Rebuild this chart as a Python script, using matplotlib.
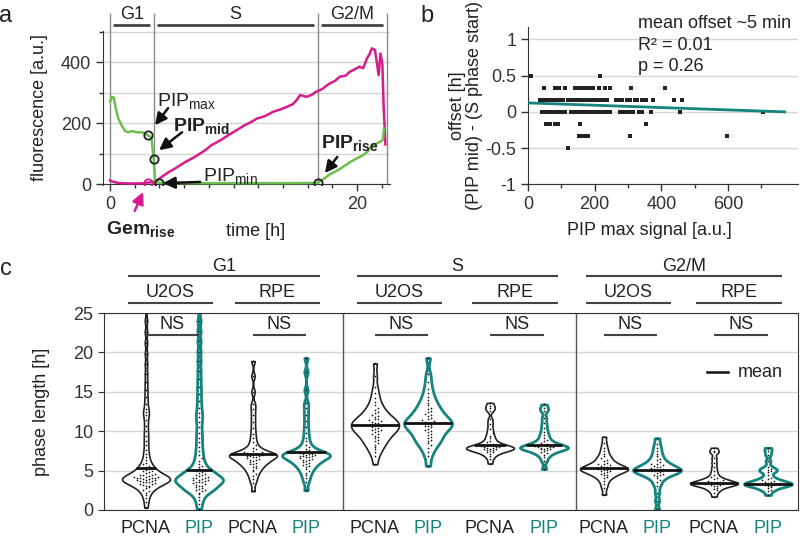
import numpy as np
import matplotlib.pyplot as plt

plt.rcParams['font.family'] = ['Liberation Sans', 'DejaVu Sans']
plt.rcParams['mathtext.fontset'] = 'custom'
plt.rcParams['mathtext.rm'] = 'Liberation Sans'
plt.rcParams['mathtext.bf'] = 'Liberation Sans:bold'
plt.rcParams['mathtext.it'] = 'Liberation Sans:italic'
plt.rcParams['axes.unicode_minus'] = False
plt.rcParams['text.color'] = '#222222'
plt.rcParams['axes.labelcolor'] = '#222222'
plt.rcParams['xtick.color'] = '#333333'
plt.rcParams['ytick.color'] = '#333333'
plt.rcParams['axes.edgecolor'] = '#333333'

FS = 13
GREEN = '#6cbf4e'
MAGENTA = '#d81b8c'
TEAL = '#15847c'
GRID = '#d6d6d6'

# ---- panel a: example cell trace ----
pip_t = [0.0, 0.15, 0.3, 0.45, 0.67, 0.94, 1.21, 1.48, 1.8, 2.15, 2.56, 2.8, 3.05, 3.25, 3.37,
         3.45, 3.53, 3.6, 3.64, 3.75, 3.97, 6.0, 9.0, 12.0, 15.0, 16.8, 17.27, 17.8, 18.6, 19.4,
         19.97, 20.5, 20.9, 21.2, 21.6, 21.86, 22.08, 22.19]
pip_v = [270, 286, 284, 250, 215, 193, 174, 170, 174, 170, 170, 166, 160, 156, 144,
         115, 82, 40, 12, 6, 4, 3, 3, 3, 3, 4, 16, 32, 49, 71,
         84, 95, 108, 128, 133, 139, 144, 182]

gem_t = [0.0, 0.15, 0.4, 0.8, 1.5, 2.2, 2.8, 3.05, 3.3, 3.6, 3.9, 4.2, 4.7, 5.26, 6.0, 6.9, 7.6,
         8.23, 9.0, 9.6, 10.3, 10.9, 11.5, 11.9, 12.5, 13.2, 13.8, 14.3, 14.8, 15.1, 15.4, 15.9,
         16.3, 16.7, 17.2, 17.5, 17.8, 18.2, 18.6, 19.1, 19.4, 19.7, 20.2, 20.5, 20.8, 21.0,
         21.2, 21.45, 21.6, 21.75, 21.9, 22.05, 22.15, 22.3]
gem_v = [12, 9, 6, 3, 2, 2, 3, 5, 6, 8, 15, 24, 38, 51, 70, 90, 108,
         128, 145, 161, 178, 193, 205, 215, 222, 237, 245, 253, 262, 275, 292, 286,
         292, 303, 312, 322, 330, 338, 352, 356, 368, 374, 385, 380, 412, 425,
         445, 440, 400, 357, 428, 395, 260, 130]

phase_bounds = [0.0, 3.53, 16.8, 22.4]
phase_names = ['G1', 'S', 'G2/M']
pip_max = (3.05, 160)
pip_mid = (3.53, 82)
pip_min = (3.97, 4)
pip_rise = (16.8, 4)
gem_rise = (3.05, 5)

# ---- panel b: offset vs PIP max ----
b_x = [10, 215,
       47, 80, 93, 110, 140, 148, 156, 164, 172, 180, 188, 195, 213, 230, 247, 310, 410,
       37, 45, 53, 63, 71, 79, 87, 95, 105, 120, 128, 136, 144, 152, 160, 170, 180, 188, 196,
       204, 212, 220, 228, 237, 265, 275, 283, 297, 305, 320, 327, 343, 355, 375, 437, 463,
       43, 50, 57, 65, 72, 80, 88, 95, 103, 110, 130, 140, 150, 158, 166, 174, 182, 190, 198,
       206, 214, 222, 230, 238, 245, 275, 283, 291, 299, 307, 315, 333, 343, 370, 455, 705,
       55, 65, 80, 90, 155, 355,
       153, 163, 172, 180, 305, 598,
       120]
b_y = [0.5] * 2 + [1 / 3] * 17 + [1 / 6] * 36 + [0.0] * 36 + [-1 / 6] * 6 + [-1 / 3] * 6 + [-0.5]
fit_intercept = 0.124
fit_slope = -0.00016
fit_xmax = 770

# ---- panel c: phase lengths [h] ----
g1_u2os_pcna = [0.3, 1.0, 1.5, 1.9, 2.2, 2.4, 2.6, 2.8, 2.9, 3.0, 3.1, 3.2, 3.3, 3.35, 3.4, 3.5,
                3.55, 3.6, 3.65, 3.7, 3.75, 3.8, 3.85, 3.9, 3.95, 4.0, 4.0, 4.05, 4.1, 4.15, 4.2,
                4.25, 4.3, 4.4, 4.45, 4.5, 4.6, 4.7, 4.8, 4.9, 5.0, 5.1, 5.25, 5.4, 5.6, 5.8, 6.0,
                6.3, 6.7, 7.1, 7.6, 8.2, 8.8, 9.4, 10.0, 10.7, 11.4, 12.0, 12.4, 12.8, 13.5, 14.3,
                15.2, 16.2, 17.3, 18.5, 19.8, 21.2, 22.6, 24.0, 25.5]
g1_u2os_pip = [0.1, 0.8, 1.3, 1.7, 2.0, 2.2, 2.4, 2.5, 2.6, 2.7, 2.8, 2.9, 3.0, 3.1, 3.2, 3.3,
               3.4, 3.5, 3.55, 3.6, 3.7, 3.75, 3.8, 3.85, 3.9, 4.0, 4.05, 4.1, 4.2, 4.3, 4.4, 4.5,
               4.6, 4.7, 4.8, 4.9, 5.0, 5.2, 5.4, 5.6, 5.9, 6.2, 6.6, 7.0, 7.5, 8.0, 8.6, 9.2,
               9.8, 10.5, 11.2, 11.8, 12.3, 13.0, 13.8, 14.7, 15.6, 16.6, 17.7, 18.9, 20.1, 21.4,
               22.7, 24.0, 25.5]
g1_rpe_pcna = [2.4, 3.4, 3.9, 4.3, 4.6, 4.9, 5.1, 5.3, 5.5, 5.6, 5.8, 5.9, 6.0, 6.1, 6.2, 6.3,
               6.4, 6.5, 6.6, 6.7, 6.75, 6.8, 6.85, 6.9, 6.95, 7.0, 7.05, 7.1, 7.15, 7.2, 7.3,
               7.4, 7.5, 7.7, 7.9, 8.2, 8.6, 9.1, 9.7, 10.4, 11.2, 12.0, 12.8, 13.5, 15.0, 17.0,
               18.9]
g1_rpe_pip = [2.5, 3.5, 4.0, 4.4, 4.7, 5.0, 5.2, 5.4, 5.6, 5.7, 5.9, 6.0, 6.1, 6.2, 6.3, 6.4,
              6.5, 6.6, 6.7, 6.75, 6.8, 6.85, 6.9, 6.95, 7.0, 7.05, 7.1, 7.15, 7.2, 7.3, 7.4,
              7.5, 7.6, 7.8, 8.0, 8.3, 8.7, 9.2, 9.8, 10.5, 11.3, 12.1, 12.9, 13.6, 15.2, 17.5,
              19.3]
s_u2os_pcna = [5.8, 6.8, 7.3, 7.7, 8.0, 8.3, 8.5, 8.7, 8.9, 9.1, 9.3, 9.4, 9.6, 9.7, 9.9, 10.0,
               10.1, 10.2, 10.3, 10.4, 10.5, 10.6, 10.7, 10.8, 10.9, 11.0, 11.1, 11.2, 11.3,
               11.4, 11.5, 11.6, 11.8, 11.9, 12.1, 12.3, 12.5, 12.7, 13.0, 13.3, 13.7, 14.2,
               14.8, 15.6, 17.0, 18.6]
s_u2os_pip = [5.6, 6.8, 7.4, 7.9, 8.2, 8.5, 8.7, 8.9, 9.1, 9.3, 9.5, 9.7, 9.9, 10.0, 10.2, 10.3,
              10.5, 10.6, 10.7, 10.8, 10.9, 11.0, 11.1, 11.2, 11.3, 11.4, 11.6, 11.7, 11.9, 12.0,
              12.2, 12.4, 12.6, 12.8, 13.0, 13.3, 13.6, 13.9, 14.3, 14.8, 15.4, 16.2, 17.2, 19.3]
s_rpe_pcna = [5.9, 6.5, 6.9, 7.1, 7.3, 7.4, 7.5, 7.6, 7.65, 7.7, 7.75, 7.8, 7.85, 7.9, 7.95,
              8.0, 8.05, 8.1, 8.2, 8.3, 8.4, 8.6, 8.8, 9.1, 9.4, 9.8, 10.3, 10.9, 11.5, 12.6,
              12.9, 13.2, 13.6]
s_rpe_pip = [5.2, 6.2, 6.7, 7.0, 7.2, 7.35, 7.5, 7.6, 7.7, 7.75, 7.8, 7.85, 7.9, 7.95, 8.0,
             8.05, 8.1, 8.2, 8.3, 8.4, 8.5, 8.7, 8.9, 9.2, 9.5, 9.9, 10.4, 11.0, 11.7, 12.6,
             12.9, 13.4]
g2_u2os_pcna = [1.95, 2.8, 3.3, 3.7, 4.0, 4.2, 4.4, 4.5, 4.6, 4.7, 4.8, 4.9, 5.0, 5.05, 5.1,
                5.15, 5.2, 5.25, 5.3, 5.35, 5.4, 5.5, 5.6, 5.7, 5.8, 5.9, 6.0, 6.2, 6.4, 6.6,
                6.8, 7.1, 7.5, 7.9, 8.5, 9.3]
g2_u2os_pip = [0.1, 1.2, 2.2, 3.0, 3.5, 3.8, 4.1, 4.3, 4.4, 4.5, 4.6, 4.7, 4.8, 4.9, 4.95, 5.0,
               5.05, 5.1, 5.15, 5.2, 5.3, 5.4, 5.5, 5.6, 5.7, 5.8, 5.9, 6.1, 6.3, 6.5, 6.8, 7.1,
               7.5, 7.9, 8.4, 9.1]
g2_rpe_pcna = [1.7, 2.2, 2.5, 2.7, 2.85, 3.0, 3.1, 3.15, 3.2, 3.25, 3.3, 3.35, 3.4, 3.45, 3.5,
               3.55, 3.6, 3.7, 3.8, 3.9, 4.0, 4.2, 4.5, 4.9, 5.4, 6.0, 6.6, 7.3, 7.5, 7.9]
g2_rpe_pip = [1.9, 2.4, 2.6, 2.8, 2.9, 3.0, 3.1, 3.15, 3.2, 3.25, 3.3, 3.35, 3.4, 3.45, 3.5,
              3.6, 3.7, 3.8, 3.9, 4.1, 4.4, 4.8, 5.0, 5.1, 5.2, 5.5, 6.2, 7.0, 7.5, 7.9]

violin_data = [g1_u2os_pcna, g1_u2os_pip, g1_rpe_pcna, g1_rpe_pip,
               s_u2os_pcna, s_u2os_pip, s_rpe_pcna, s_rpe_pip,
               g2_u2os_pcna, g2_u2os_pip, g2_rpe_pcna, g2_rpe_pip]
violin_means = [5.3, 5.1, 7.1, 7.3, 10.8, 11.0, 8.3, 8.3, 5.3, 5.1, 3.4, 3.3]
marker_names = ['PCNA', 'PIP'] * 6
cell_lines = ['U2OS', 'RPE']
sig_labels = ['NS'] * 6

# layout / style for panel c (pixel-like units inside the axes)
positions = [42, 95, 149, 202, 271, 324, 386, 440, 500, 553, 610, 664]
dividers = [239, 472]
kde_bw = [0.45, 0.45, 0.4, 0.4, 0.6, 0.6, 0.3, 0.3, 0.35, 0.35, 0.25, 0.25]

fig = plt.figure(figsize=(8, 5.37), dpi=100)
W, H = 800.0, 537.0


def px_axes(l, t, r, b):
    return fig.add_axes([l / W, 1 - b / H, (r - l) / W, (b - t) / H])


# ================= panel a =================
ax = px_axes(103, 31, 390, 185)
ax.set_xlim(-0.57, 22.67)
ax.set_ylim(-3, 502)
ax.spines['top'].set_visible(False)
ax.spines['right'].set_visible(False)
ax.spines['bottom'].set_position(('data', 0))
ax.set_yticks([0, 200, 400])
ax.set_yticks([100, 300, 500], minor=True)
ax.set_xticks([0, 20])
ax.set_xticks(np.arange(2, 23, 2), minor=True)
ax.tick_params(labelsize=FS, length=5, width=1)
ax.tick_params(which='minor', length=3, width=1)
ax.yaxis.grid(True, which='both', color=GRID, lw=1)
ax.set_axisbelow(True)
ax.set_xlabel('time [h]', fontsize=FS)
ax.xaxis.set_label_coords(0.53, -0.25)
ax.set_ylabel('fluorescence [a.u.]', fontsize=FS)
ax.yaxis.set_label_coords(-0.19, 0.5)

ax.vlines(phase_bounds, 0, 562, colors='#8a8a8a', lw=1, clip_on=False, zorder=1)
for i, name in enumerate(phase_names):
    a0, a1 = phase_bounds[i], phase_bounds[i + 1]
    ax.hlines(521, a0 + 0.25, a1 - 0.3, colors='#444444', lw=2, clip_on=False)
    ax.text((a0 + a1) / 2, 556, name, ha='center', va='center', fontsize=FS, clip_on=False)

ax.plot(gem_t, gem_v, color=MAGENTA, lw=1.8, zorder=3)
ax.plot(pip_t, pip_v, color=GREEN, lw=1.8, zorder=3)
for pt in [pip_max, pip_mid, pip_min, pip_rise]:
    ax.plot(*pt, 'o', ms=6, mfc='none', mec='#222222', mew=1.3, zorder=5)
ax.plot(*gem_rise, 'o', ms=6, mfc='none', mec=MAGENTA, mew=1.3, zorder=5)

arrow_k = dict(arrowstyle='-|>,head_length=0.7,head_width=0.35', lw=1.8, color='#111111',
               shrinkA=0, shrinkB=0)
ax.annotate('', xy=(3.64, 193), xytext=(4.7, 249), arrowprops=arrow_k)
ax.text(3.8, 272, r'PIP$_{\mathrm{max}}$', fontsize=14, va='center', ha='left')
ax.annotate('', xy=(3.97, 111), xytext=(5.83, 170), arrowprops=arrow_k)
ax.text(5.1, 192, r'$\mathbf{PIP_{mid}}$', fontsize=14, va='center', ha='left')
ax.annotate('', xy=(4.3, 3), xytext=(7.3, 7), arrowprops=arrow_k)
ax.text(7.5, 28, r'PIP$_{\mathrm{min}}$', fontsize=14, va='center', ha='left')
ax.annotate('', xy=(17.4, 36), xytext=(18.4, 89), arrowprops=arrow_k)
ax.text(17.1, 136, r'$\mathbf{PIP_{rise}}$', fontsize=14, va='center', ha='left')
arrow_m = dict(arrow_k, color=MAGENTA)
ax.annotate('', xy=(2.67, -26), xytext=(2.0, -88), arrowprops=arrow_m, annotation_clip=False)
ax.text(-0.3, -146, r'$\mathbf{Gem_{rise}}$', fontsize=14, va='center', ha='left', clip_on=False)

# ================= panel b =================
bx = px_axes(528, 27, 798, 184.5)
bx.set_xlim(0, 810)
bx.set_ylim(-1, 1.17)
bx.spines['top'].set_visible(False)
bx.spines['right'].set_visible(False)
bx.set_xticks([0, 200, 400, 600])
bx.set_xticks([100, 300, 500, 700], minor=True)
bx.set_yticks([-1, -0.5, 0, 0.5, 1])
bx.set_yticklabels(['-1', '-0.5', '0', '0.5', '1'])
bx.tick_params(labelsize=FS, length=5, width=1)
bx.tick_params(which='minor', length=3, width=1)
bx.yaxis.grid(True, color=GRID, lw=1)
bx.set_axisbelow(True)
bx.scatter(b_x, b_y, marker='s', s=5, color='#222222', lw=0, zorder=3)
fit_x = np.array([0, fit_xmax])
bx.plot(fit_x, fit_intercept + fit_slope * fit_x, color=TEAL, lw=2, zorder=4)
bx.set_xlabel('PIP max signal [a.u.]', fontsize=FS)
bx.xaxis.set_label_coords(0.45, -0.24)
bx.set_ylabel('offset [h]\n(PIP mid) - (S phase start)', fontsize=FS, linespacing=1.0)
bx.yaxis.set_label_coords(-0.165, 0.5)
bx.text(330, 1.22, 'mean offset ~5 min', fontsize=FS, va='center')
bx.text(330, 0.92, 'R\u00b2 = 0.01', fontsize=FS, va='center')
bx.text(330, 0.62, 'p = 0.26', fontsize=FS, va='center')

# ================= panel c =================
cx = px_axes(104, 313, 798, 510)
cx.set_xlim(0, 694)
cx.set_ylim(0, 25)
cx.set_yticks([0, 5, 10, 15, 20, 25])
cx.yaxis.grid(True, color=GRID, lw=1)
cx.set_axisbelow(True)
cx.tick_params(axis='y', labelsize=FS, length=4)
cx.set_ylabel('phase length [h]', fontsize=FS)
cx.yaxis.set_label_coords(-0.078, 0.5)
cx.set_xticks(positions)
cx.set_xticklabels(marker_names, fontsize=FS)
cx.tick_params(axis='x', length=0, pad=7)
for lab, name in zip(cx.get_xticklabels(), marker_names):
    lab.set_color(TEAL if name == 'PIP' else '#222222')
for d in dividers:
    cx.axvline(d, color='#555555', lw=1)

for i, vals in enumerate(violin_data):
    vals = np.sort(np.array(vals))
    pos = positions[i]
    pip = marker_names[i] == 'PIP'
    factor = kde_bw[i] / np.std(vals, ddof=1)
    parts = cx.violinplot([vals], positions=[pos], widths=48, showextrema=False,
                          bw_method=factor, points=300)
    body = parts['bodies'][0]
    body.set_facecolor('white')
    body.set_alpha(1)
    body.set_edgecolor(TEAL if pip else '#222222')
    body.set_linewidth(2.0 if pip else 1.2)
    body.set_zorder(2)
    verts = body.get_paths()[0].vertices
    right = verts[verts[:, 0] > pos + 1e-6]
    order = np.argsort(right[:, 1])
    ys, xs = right[order, 1], right[order, 0] - pos
    # dots spread sideways inside the violin
    bins = np.round(vals / 0.4).astype(int)
    for b in np.unique(bins):
        vv = vals[bins == b]
        hw = np.interp(vv.mean(), ys, xs) * 0.8
        step = min(3.0, hw / max(1, (len(vv) + 1) // 2))
        offs = [((k + 1) // 2) * step * (1 if k % 2 else -1) for k in range(len(vv))]
        cx.scatter(pos + np.array(offs), vv, s=1.5, color='#111111', lw=0, zorder=3)
    m = violin_means[i]
    hwm = np.interp(m, ys, xs)
    cx.hlines(m, pos - hwm, pos + hwm, colors='#111111', lw=2, zorder=4)

# significance brackets
for k in range(6):
    p0, p1 = positions[2 * k], positions[2 * k + 1]
    cx.hlines(22.2, p0, p1, colors='#444444', lw=1.5, zorder=4)
    cx.text((p0 + p1) / 2, 23.6, sig_labels[k], ha='center', va='center', fontsize=FS)

# group headers above panel c
for g in range(3):
    for c in range(2):
        k = 2 * g + c
        l0, l1 = positions[2 * k] - 18, positions[2 * k + 1] + 14
        cx.hlines(26.3, l0, l1, colors='#444444', lw=1.5, clip_on=False)
        cx.text((l0 + l1) / 2, 27.6, cell_lines[c], ha='center', va='center', fontsize=FS,
                clip_on=False)
    g0, g1 = positions[4 * g] - 18, positions[4 * g + 3] + 14
    cx.hlines(29.7, g0, g1, colors='#444444', lw=1.5, clip_on=False)
    cx.text((g0 + g1) / 2, 30.9, phase_names[g], ha='center', va='center', fontsize=FS,
            clip_on=False)

cx.plot([603, 624], [17.5, 17.5], color='#111111', lw=1.8)
cx.text(634, 17.5, 'mean', fontsize=FS, va='center')

fig.text(6 / W, 1 - 16 / H, 'a', fontsize=17, ha='center', va='center')
fig.text(427 / W, 1 - 16 / H, 'b', fontsize=17, ha='center', va='center')
fig.text(6 / W, 1 - 269 / H, 'c', fontsize=17, ha='center', va='center')

fig.savefig('out.png', dpi=100)
